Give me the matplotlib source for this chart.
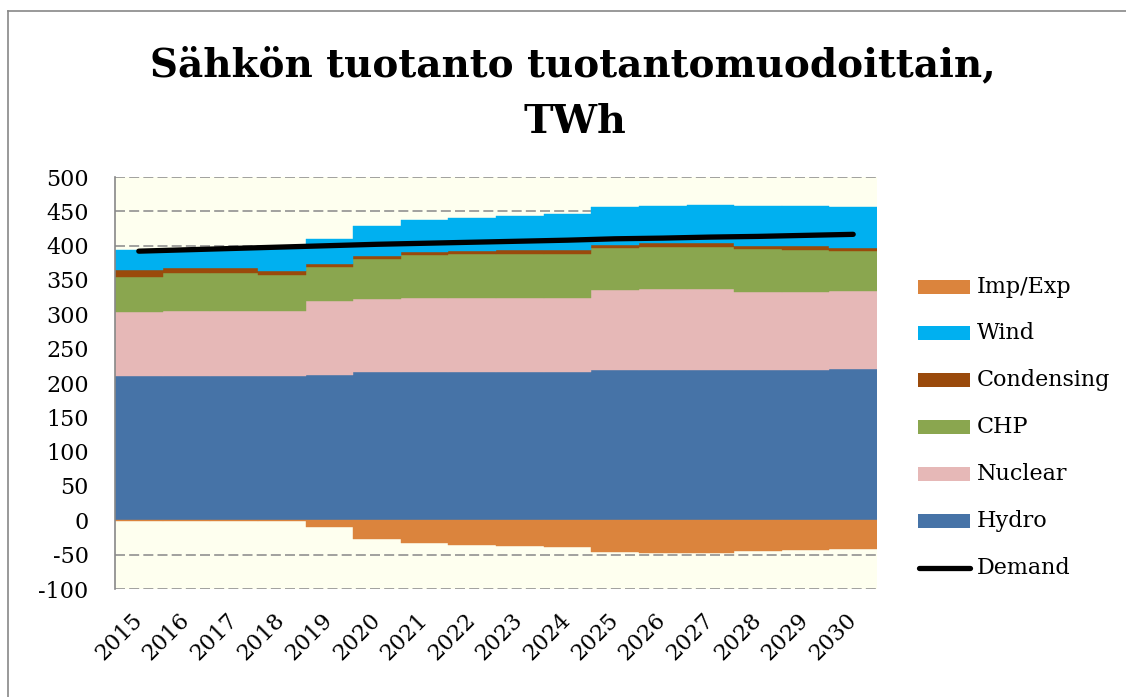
import numpy as np
import matplotlib
matplotlib.use("Agg")
import matplotlib.pyplot as plt
from matplotlib.lines import Line2D
from matplotlib.patches import Rectangle

years = ["2015", "2016", "2017", "2018", "2019", "2020", "2021", "2022",
         "2023", "2024", "2025", "2026", "2027", "2028", "2029", "2030"]
hydro = [210.5, 210.5, 210.5, 210.5, 211.5, 215.5, 215.5, 215.8,
         216.4, 216.4, 218.4, 218.4, 218.4, 218.4, 218.4, 220.3]
nuclear = [93.3, 94.3, 94.5, 94.5, 107.5, 107.5, 108.0, 108.7,
           107.9, 107.9, 117.6, 118.1, 118.1, 114.1, 114.1, 113.9]
chp = [51.0, 55.2, 55.0, 51.7, 49.4, 58.0, 62.8, 63.3,
       63.5, 63.5, 60.6, 61.5, 61.5, 62.5, 61.1, 58.0]
condensing = [9.7, 7.0, 7.0, 6.3, 5.6, 4.4, 4.7, 4.8,
              5.2, 5.2, 4.8, 5.4, 5.4, 5.0, 5.4, 3.8]
wind = [29.1, 27.0, 28.0, 33.0, 35.6, 43.6, 46.3, 48.1,
        50.0, 53.0, 54.4, 54.8, 56.2, 58.2, 59.2, 60.7]
imp_exp = [-1.2, -1.2, -1.5, -0.5, -9.7, -27.2, -33.5, -36.0,
           -37.4, -38.4, -46.2, -47.1, -47.1, -45.2, -43.7, -41.3]
demand = [392.0, 394.0, 396.0, 398.0, 400.0, 402.0, 403.5, 405.0,
          406.5, 408.0, 410.0, 411.0, 412.5, 413.5, 415.0, 416.5]
series_names = ["Hydro", "Nuclear", "CHP", "Condensing", "Wind"]
colors = {"Hydro": "#4673A7", "Nuclear": "#E6B8B7", "CHP": "#8AA64F",
          "Condensing": "#9A4A0B", "Wind": "#00B0F0", "Imp/Exp": "#DB843D"}
yticks = [-100, -50, 0, 50, 100, 150, 200, 250, 300, 350, 400, 450, 500]

plt.rcParams["lines.scale_dashes"] = False
serif = ["DejaVu Serif"]

W, H = 1126, 697
fig = plt.figure(figsize=(W / 100, H / 100), dpi=100)
fig.patch.set_facecolor("white")


def fx(px):
    return px / W


def fy(py):
    return 1 - py / H


ax = fig.add_axes([fx(115), fy(589), fx(877) - fx(115), fy(177) - fy(589)])
ax.set_facecolor("#FEFFEF")

x = np.arange(len(years))
data = {"Hydro": hydro, "Nuclear": nuclear, "CHP": chp,
        "Condensing": condensing, "Wind": wind}
bottom = np.zeros(len(years))
for name in series_names:
    vals = np.array(data[name])
    ax.bar(x, vals, width=1.0, bottom=bottom, color=colors[name],
           edgecolor=colors[name], linewidth=0.3, zorder=2)
    bottom = bottom + vals
ax.bar(x, imp_exp, width=1.0, bottom=0, color=colors["Imp/Exp"],
       edgecolor=colors["Imp/Exp"], linewidth=0.3, zorder=2)
ax.plot(x, demand, color="black", linewidth=3.8, solid_capstyle="round", zorder=3)

ax.set_xlim(-0.5, len(years) - 0.5)
ax.set_ylim(-100, 500)
ax.set_yticks(yticks)
ax.set_yticklabels([str(v) for v in yticks], fontsize=16, family=serif)
ax.set_xticks(x)
ax.set_xticklabels(years, rotation=45, ha="right", va="center",
                   rotation_mode="anchor", fontsize=16, family=serif)
ax.tick_params(axis="y", length=0, pad=19)
ax.tick_params(axis="x", length=0, pad=20)
ax.yaxis.grid(True, color="#888888", linestyle=(0, (7.2, 3.0)), linewidth=1.1, zorder=1)
ax.set_axisbelow(True)
for s in ["top", "right", "bottom"]:
    ax.spines[s].set_visible(False)
ax.spines["left"].set_color("#888888")
ax.spines["left"].set_linewidth(1.2)

# Title
fig.text(fx(573), fy(76), "Sähkön tuotanto tuotantomuodoittain,", ha="center",
         va="baseline", fontsize=28, fontweight="bold", family=serif)
fig.text(fx(575), fy(133), "TWh", ha="center", va="baseline",
         fontsize=28.5, fontweight="bold", family=serif)

# Legend (drawn manually to match position)
legend_items = ["Imp/Exp", "Wind", "Condensing", "CHP", "Nuclear", "Hydro"]
ys = [287, 333, 380, 427, 474, 521]
for name, yc in zip(legend_items, ys):
    fig.add_artist(Rectangle((fx(918), fy(yc + 7)), fx(970) - fx(918),
                             fy(yc - 7) - fy(yc + 7), transform=fig.transFigure,
                             facecolor=colors[name], edgecolor="none"))
    fig.text(fx(977), fy(yc), name, ha="left", va="center", fontsize=16, family=serif)
fig.add_artist(Line2D([fx(919), fx(970)], [fy(568), fy(568)], transform=fig.transFigure,
                      color="black", linewidth=3.8, solid_capstyle="round"))
fig.text(fx(977), fy(568), "Demand", ha="left", va="center", fontsize=16, family=serif)

# Chart border
fig.add_artist(Line2D([fx(8), fx(8)], [fy(11), 0], transform=fig.transFigure,
                      color="#888888", linewidth=1.2))
fig.add_artist(Line2D([fx(8), 1], [fy(11), fy(11)], transform=fig.transFigure,
                      color="#888888", linewidth=1.2))

fig.savefig("out.png", dpi=100)
